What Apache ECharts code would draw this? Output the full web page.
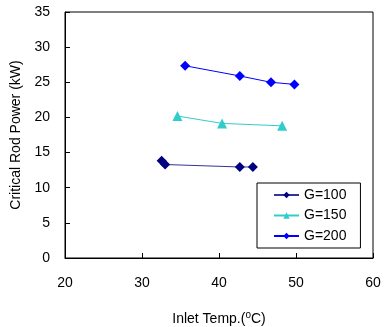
<!DOCTYPE html>
<html><head><meta charset="utf-8">
<script src="https://cdn.jsdelivr.net/npm/echarts@6/dist/echarts.min.js"></script>
<style>html,body{margin:0;padding:0;background:#fff}#c{width:391px;height:327px}</style>
</head><body><div id="c"></div>
<script>
const g100 = [[32.55,13.85],[33.0,13.3],[42.7,12.95],[44.4,12.95]];
const g150 = [[34.6,20.2],[40.4,19.15],[48.2,18.8]];
const g200 = [[35.6,27.35],[42.7,25.9],[46.75,25.0],[49.8,24.7]];
const seriesNames = ['G=100','G=150','G=200'];
const xTicks = [20,30,40,50,60];
const yTicks = [0,5,10,15,20,25,30,35];

const font = 'Liberation Sans, Arial, sans-serif';
const chart = echarts.init(document.getElementById('c'), null, {renderer:'canvas'});
const axisLine = {show:true, lineStyle:{color:'#000', width:1}};
chart.setOption({
  animation:false,
  backgroundColor:'#fff',
  grid:{left:65, top:12, width:308, height:246, show:true, borderColor:'#000', borderWidth:1,
    containLabel:false, outerBoundsMode:'none'},
  xAxis:{type:'value', min:xTicks[0], max:xTicks[xTicks.length-1], interval:10,
    axisLine:axisLine, axisTick:{show:true, inside:true, length:5, lineStyle:{color:'#000'}},
    splitLine:{show:false},
    axisLabel:{color:'#000', fontSize:14, fontFamily:font, margin:18},
    name:'Inlet Temp.({s|o}C)', nameLocation:'middle', nameGap:52,
    nameTextStyle:{color:'#000', fontSize:14, fontFamily:font,
      rich:{s:{fontSize:10, verticalAlign:'top', padding:[0,0,8,0], color:'#000', fontFamily:font}}}
  },
  yAxis:{type:'value', min:yTicks[0], max:yTicks[yTicks.length-1], interval:5,
    axisLine:axisLine, axisTick:{show:true, inside:true, length:5, lineStyle:{color:'#000'}},
    splitLine:{show:false},
    axisLabel:{color:'#000', fontSize:14, fontFamily:font, margin:15},
    name:'Critical Rod Power (kW)', nameLocation:'middle', nameGap:29,
    nameTextStyle:{color:'#000', fontSize:14, fontFamily:font}
  },
  legend:{
    orient:'vertical', left:257, top:183,
    itemWidth:25, itemHeight:8, itemGap:6.5, itemTextGap:3,
    padding:[5,14,5,16],
    borderColor:'#000', borderWidth:1, backgroundColor:'#fff', borderRadius:0,
    textStyle:{color:'#000', fontSize:14, fontFamily:font},
    data:seriesNames
  },
  series:[
    {name:seriesNames[0], type:'line', data:g100, symbol:'diamond', symbolSize:10,
      itemStyle:{color:'#000080'}, lineStyle:{color:'#333399', width:1}},
    {name:seriesNames[1], type:'line', data:g150, symbol:'triangle', symbolSize:10,
      itemStyle:{color:'#33CCCC'}, lineStyle:{color:'#33CCCC', width:1}},
    {name:seriesNames[2], type:'line', data:g200, symbol:'diamond', symbolSize:10,
      itemStyle:{color:'#0000FF'}, lineStyle:{color:'#0000FF', width:1}}
  ]
});
</script></body></html>
